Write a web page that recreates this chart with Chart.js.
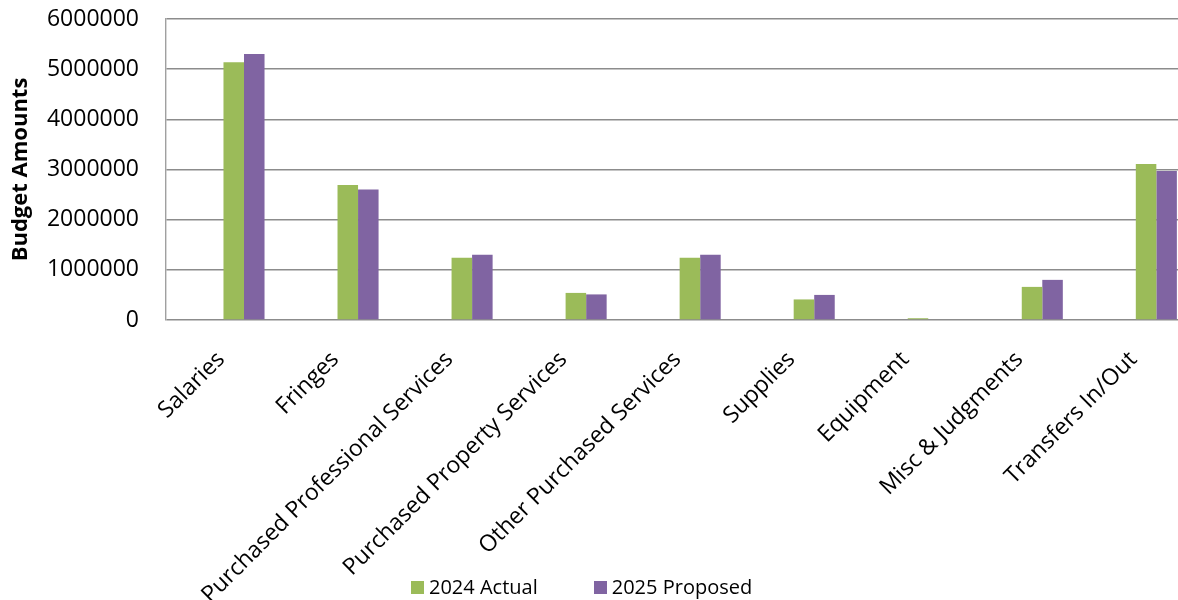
<!DOCTYPE html>
<html>
<head>
<meta charset="utf-8">
<script src="https://cdn.jsdelivr.net/npm/chart.js@4/dist/chart.umd.min.js"></script>
<style>
    html, body { margin: 0; padding: 0; background: #fff; overflow: hidden; }
    #wrap { width: 1178px; height: 600px; position: relative; }
    #legend {
        position: absolute; left: 411px; top: 576px; height: 22px;
        display: flex; align-items: center;
        font-family: 'Open Sans', sans-serif; font-size: 20px; line-height: 22px; color: #000;
    }
    #legend .item { display: flex; align-items: center; margin-right: 56px; }
    #legend .box  { width: 13px; height: 13px; margin-right: 5px; }
</style>
</head>
<body>
<div id="wrap"><canvas id="chart"></canvas><div id="legend"></div></div>
<script>
'use strict';

const categories = [
    'Salaries',
    'Fringes',
    'Purchased Professional Services',
    'Purchased Property Services',
    'Other Purchased Services',
    'Supplies',
    'Equipment',
    'Misc & Judgments',
    'Transfers In/Out'
];
const actual2024   = [5140000, 2690000, 1240000, 540000, 1240000, 410000, 35000, 660000, 3110000];
const proposed2025 = [5300000, 2600000, 1300000, 510000, 1300000, 500000, 0, 800000, 2970000];
const yTicks       = [0, 1000000, 2000000, 3000000, 4000000, 5000000, 6000000];

const FONT = 'Open Sans';
// the picture's plot starts a little left of the first category and is cut off on the right
const xMin = -0.684;
const xMax = 8.19;
// labels end a bit left of their category centre
const labelShift = 0.2;

function points(values) {
    return values.map((v, i) => ({x: i, y: v}));
}

// legend sits in the label area, so it is built as html (Chart.js html legend pattern)
const htmlLegend = {
    id: 'htmlLegend',
    afterUpdate(chart) {
        const box = document.getElementById('legend');
        box.innerHTML = '';
        chart.options.plugins.legend.labels.generateLabels(chart).forEach(item => {
            const el = document.createElement('div');
            el.className = 'item';
            const sw = document.createElement('span');
            sw.className = 'box';
            sw.style.background = item.fillStyle;
            el.appendChild(sw);
            el.appendChild(document.createTextNode(item.text));
            box.appendChild(el);
        });
    }
};

new Chart(document.getElementById('chart'), {
    type: 'bar',
    data: {
        datasets: [{
                label: '2024 Actual',
                data: points(actual2024),
                backgroundColor: '#9BBB59'
            }, {
                label: '2025 Proposed',
                data: points(proposed2025),
                backgroundColor: '#8064A2'
            }]
    },
    options: {
        responsive: true,
        maintainAspectRatio: false,
        animation: false,
        devicePixelRatio: 1,
        categoryPercentage: 0.36,
        barPercentage: 1.0,
        layout: {padding: 0},
        scales: {
            x: {
                type: 'linear',
                offset: false,
                min: xMin,
                max: xMax,
                afterBuildTicks: function(scale) {
                    scale.ticks = categories.map((c, i) => ({value: i - labelShift}));
                },
                afterFit: function(scale) {
                    scale.height = 280;
                },
                grid: {display: false},
                border: {display: false},
                ticks: {
                    autoSkip: false,
                    minRotation: 45,
                    maxRotation: 45,
                    padding: 18,
                    color: '#000',
                    font: {family: FONT, size: 23},
                    callback: function(value, index) {
                        return categories[index];
                    }
                }
            },
            y: {
                min: 0,
                max: 6000000,
                afterBuildTicks: function(scale) {
                    scale.ticks = yTicks.map(v => ({value: v}));
                },
                afterFit: function(scale) {
                    scale.width = 166;
                    scale.paddingTop = 19;
                    scale.paddingBottom = 0;
                },
                grid: {color: '#8c8c8c', lineWidth: 1.6, drawTicks: false},
                border: {color: '#a0a0a0', width: 1.4},
                ticks: {
                    padding: 27,
                    color: '#000',
                    font: {family: FONT, size: 23},
                    callback: function(value) {
                        return String(value);
                    }
                },
                title: {
                    display: true,
                    text: 'Budget Amounts',
                    color: '#000',
                    padding: {top: 8, bottom: 0},
                    font: {family: FONT, size: 22, weight: 'bold'}
                }
            }
        },
        plugins: {
            tooltip: {enabled: false},
            legend: {display: false}
        }
    },
    plugins: [htmlLegend]
});
</script>
</body>
</html>
